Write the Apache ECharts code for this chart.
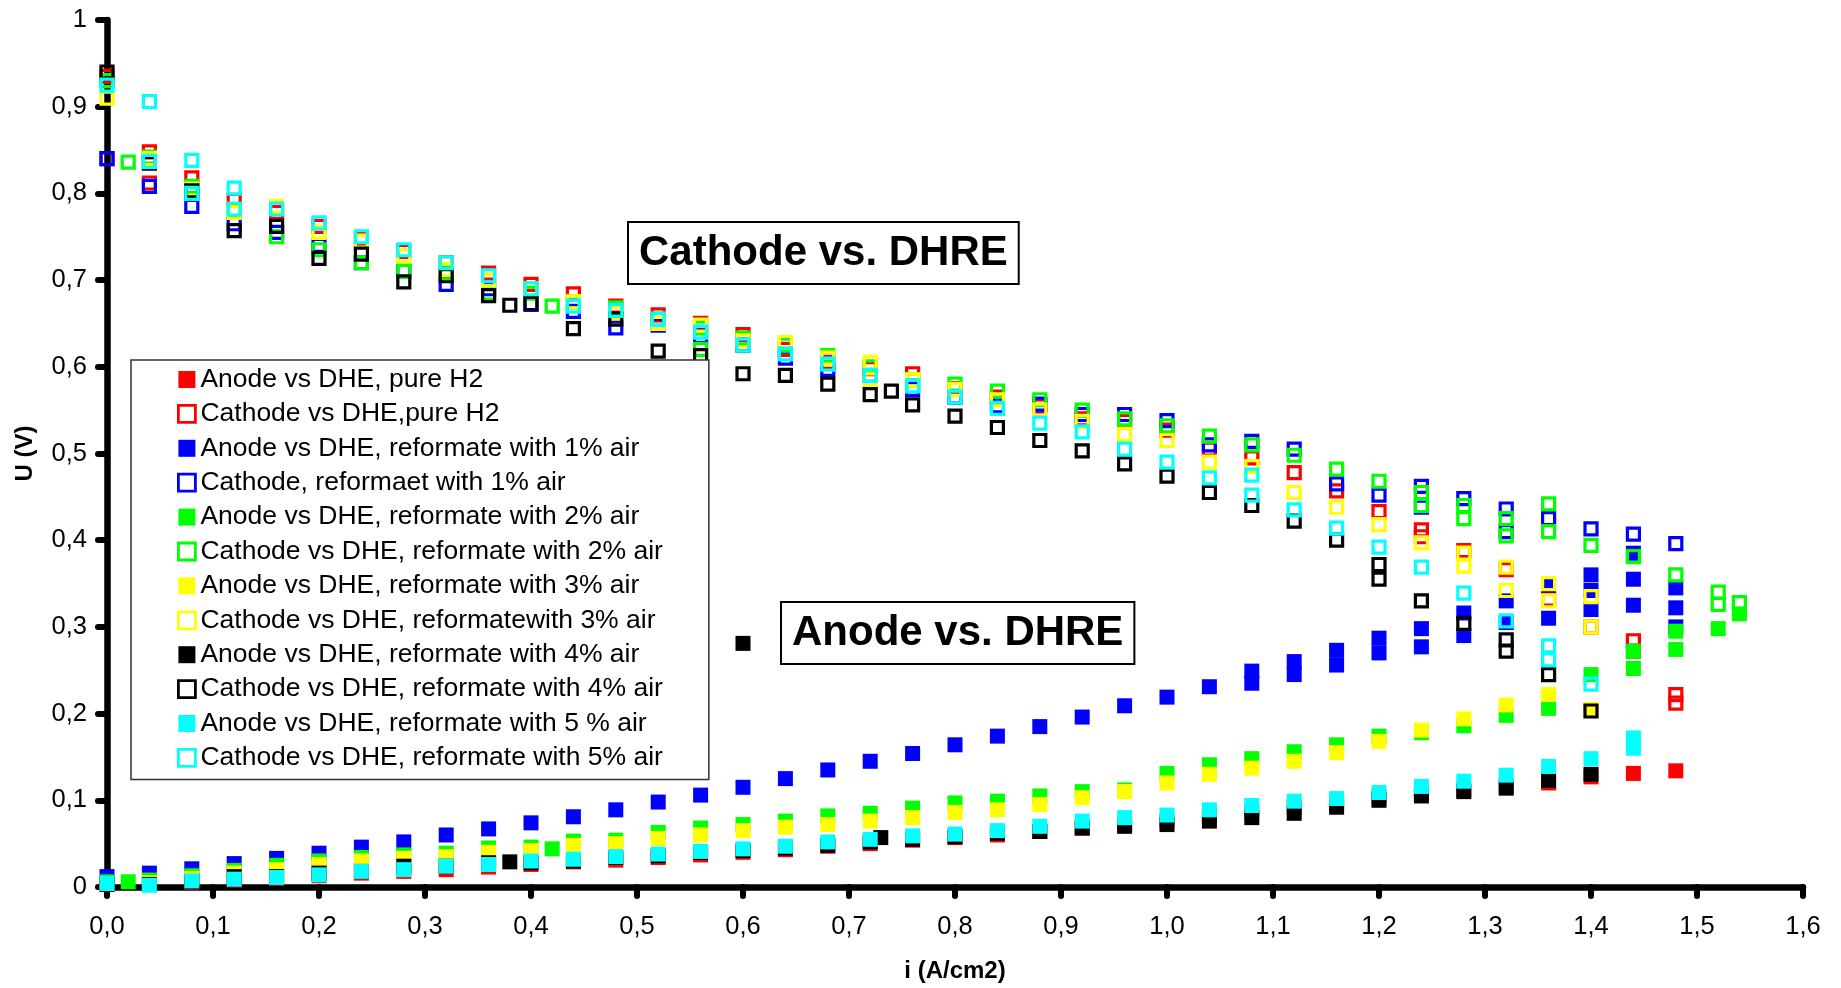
<!DOCTYPE html>
<html>
<head>
<meta charset="utf-8">
<title>Electrode potentials vs DHE</title>
<script src="https://cdn.jsdelivr.net/npm/echarts/dist/echarts.min.js"></script>
<style>
  html, body { margin: 0; padding: 0; background: #fff; }
  #chart { width: 1841px; height: 988px; }
</style>
</head>
<body>
<div id="chart"></div>
<script>
// Electrode potential U (V) against current density i (A/cm2), [i, U] pairs
const anodeH2 = [[0,0.003],[0.04,0.003],[0.08,0.005],[0.12,0.008],[0.16,0.01],[0.2,0.013],[0.24,0.016],[0.28,0.018],[0.32,0.02],[0.36,0.023],[0.4,0.026],[0.44,0.029],[0.48,0.031],[0.52,0.034],[0.56,0.037],[0.6,0.04],[0.64,0.043],[0.68,0.047],[0.72,0.05],[0.76,0.054],[0.8,0.057],[0.84,0.06],[0.88,0.064],[0.92,0.068],[0.96,0.072],[1,0.076],[1.04,0.082],[1.08,0.087],[1.12,0.092],[1.16,0.097],[1.2,0.103],[1.24,0.108],[1.28,0.112],[1.32,0.116],[1.36,0.12],[1.4,0.127],[1.44,0.131],[1.48,0.134]];
const cathodeH2 = [[0,0.935],[0,0.84],[0.04,0.848],[0.04,0.812],[0.08,0.818],[0.12,0.792],[0.16,0.778],[0.2,0.762],[0.24,0.748],[0.28,0.733],[0.32,0.72],[0.36,0.708],[0.4,0.695],[0.44,0.684],[0.48,0.67],[0.52,0.66],[0.56,0.65],[0.6,0.637],[0.64,0.62],[0.68,0.605],[0.72,0.598],[0.76,0.592],[0.8,0.575],[0.84,0.565],[0.88,0.555],[0.92,0.54],[0.96,0.537],[1,0.527],[1.04,0.505],[1.08,0.495],[1.12,0.478],[1.16,0.457],[1.2,0.433],[1.24,0.412],[1.24,0.404],[1.28,0.388],[1.32,0.366],[1.36,0.332],[1.4,0.3],[1.44,0.284],[1.44,0.272],[1.48,0.222],[1.48,0.212]];
const anode1 = [[0,0.012],[0.04,0.016],[0.08,0.021],[0.12,0.027],[0.16,0.033],[0.2,0.039],[0.24,0.046],[0.28,0.052],[0.32,0.06],[0.36,0.067],[0.4,0.074],[0.44,0.081],[0.48,0.089],[0.52,0.098],[0.56,0.106],[0.6,0.115],[0.64,0.125],[0.68,0.135],[0.72,0.145],[0.76,0.154],[0.8,0.164],[0.84,0.174],[0.88,0.185],[0.92,0.196],[0.96,0.209],[1,0.219],[1.04,0.231],[1.08,0.235],[1.08,0.249],[1.12,0.245],[1.12,0.26],[1.16,0.256],[1.16,0.273],[1.2,0.27],[1.2,0.287],[1.24,0.277],[1.24,0.298],[1.28,0.29],[1.28,0.316],[1.32,0.305],[1.32,0.33],[1.36,0.31],[1.36,0.348],[1.4,0.32],[1.4,0.342],[1.4,0.36],[1.44,0.325],[1.44,0.355],[1.44,0.385],[1.48,0.3],[1.48,0.322],[1.48,0.345]];
const cathode1 = [[0,0.84],[0.04,0.808],[0.08,0.785],[0.12,0.765],[0.16,0.755],[0.2,0.74],[0.24,0.72],[0.28,0.71],[0.32,0.695],[0.36,0.69],[0.4,0.672],[0.44,0.664],[0.48,0.645],[0.52,0.648],[0.56,0.635],[0.6,0.625],[0.64,0.61],[0.68,0.597],[0.72,0.59],[0.76,0.574],[0.8,0.565],[0.84,0.555],[0.88,0.557],[0.92,0.545],[0.96,0.545],[1,0.538],[1.04,0.51],[1.08,0.514],[1.12,0.505],[1.16,0.465],[1.2,0.452],[1.24,0.462],[1.24,0.438],[1.28,0.448],[1.32,0.436],[1.32,0.41],[1.36,0.425],[1.4,0.413],[1.44,0.407],[1.48,0.396]];
const anode2 = [[0,0.006],[0.02,0.006],[0.04,0.008],[0.08,0.013],[0.12,0.019],[0.16,0.025],[0.2,0.03],[0.24,0.034],[0.28,0.037],[0.32,0.039],[0.36,0.045],[0.4,0.046],[0.42,0.044],[0.44,0.053],[0.48,0.054],[0.52,0.063],[0.56,0.068],[0.6,0.072],[0.64,0.076],[0.68,0.082],[0.72,0.085],[0.76,0.091],[0.8,0.097],[0.84,0.099],[0.88,0.105],[0.92,0.11],[0.96,0.112],[1,0.131],[1.04,0.141],[1.08,0.148],[1.12,0.156],[1.16,0.164],[1.2,0.174],[1.24,0.178],[1.28,0.186],[1.32,0.198],[1.36,0.206],[1.4,0.245],[1.44,0.252],[1.44,0.272],[1.48,0.274],[1.48,0.295],[1.52,0.298],[1.54,0.315]];
const cathode2 = [[0,0.93],[0.02,0.836],[0.04,0.842],[0.08,0.808],[0.12,0.78],[0.16,0.75],[0.2,0.735],[0.24,0.72],[0.28,0.71],[0.32,0.708],[0.36,0.685],[0.4,0.685],[0.42,0.67],[0.44,0.675],[0.48,0.668],[0.52,0.655],[0.56,0.645],[0.56,0.62],[0.6,0.633],[0.64,0.625],[0.68,0.613],[0.72,0.6],[0.76,0.585],[0.8,0.58],[0.84,0.572],[0.88,0.562],[0.92,0.55],[0.96,0.54],[1,0.532],[1.04,0.52],[1.08,0.51],[1.12,0.498],[1.16,0.482],[1.2,0.468],[1.24,0.455],[1.24,0.44],[1.28,0.44],[1.28,0.425],[1.32,0.425],[1.32,0.405],[1.36,0.442],[1.36,0.41],[1.4,0.394],[1.44,0.381],[1.48,0.36],[1.52,0.34],[1.52,0.326],[1.54,0.328]];
const anode3 = [[0,0.004],[0.04,0.005],[0.08,0.01],[0.12,0.016],[0.16,0.02],[0.2,0.026],[0.24,0.03],[0.28,0.033],[0.32,0.035],[0.36,0.04],[0.4,0.042],[0.44,0.048],[0.48,0.05],[0.52,0.056],[0.56,0.06],[0.6,0.065],[0.64,0.069],[0.68,0.072],[0.72,0.076],[0.76,0.08],[0.8,0.086],[0.84,0.089],[0.88,0.095],[0.92,0.103],[0.96,0.11],[1,0.12],[1.04,0.13],[1.08,0.137],[1.12,0.145],[1.16,0.155],[1.2,0.168],[1.24,0.181],[1.28,0.194],[1.32,0.21],[1.36,0.222],[1.4,0.205]];
const cathode3 = [[0,0.91],[0.04,0.84],[0.08,0.805],[0.12,0.778],[0.16,0.785],[0.2,0.755],[0.24,0.745],[0.28,0.728],[0.32,0.712],[0.36,0.7],[0.4,0.69],[0.44,0.675],[0.48,0.662],[0.52,0.65],[0.56,0.648],[0.6,0.63],[0.64,0.628],[0.68,0.61],[0.72,0.605],[0.72,0.585],[0.76,0.585],[0.8,0.574],[0.84,0.562],[0.88,0.55],[0.92,0.537],[0.96,0.522],[1,0.515],[1.04,0.49],[1.08,0.485],[1.12,0.455],[1.16,0.438],[1.2,0.418],[1.24,0.397],[1.28,0.385],[1.28,0.37],[1.32,0.369],[1.32,0.342],[1.36,0.35],[1.36,0.33],[1.4,0.335],[1.4,0.3]];
const anode4 = [[0,0.003],[0.04,0.003],[0.08,0.006],[0.12,0.012],[0.16,0.012],[0.2,0.016],[0.24,0.018],[0.28,0.024],[0.32,0.024],[0.36,0.028],[0.38,0.029],[0.4,0.028],[0.44,0.03],[0.48,0.034],[0.52,0.036],[0.56,0.04],[0.6,0.042],[0.6,0.281],[0.64,0.045],[0.68,0.048],[0.72,0.052],[0.73,0.057],[0.76,0.055],[0.8,0.058],[0.84,0.062],[0.88,0.064],[0.92,0.068],[0.96,0.07],[1,0.072],[1.04,0.076],[1.08,0.08],[1.12,0.085],[1.16,0.092],[1.2,0.1],[1.24,0.105],[1.28,0.11],[1.32,0.114],[1.36,0.123],[1.4,0.13]];
const cathode4 = [[0,0.94],[0.04,0.835],[0.08,0.803],[0.12,0.757],[0.16,0.762],[0.2,0.725],[0.24,0.73],[0.28,0.698],[0.32,0.705],[0.36,0.682],[0.38,0.671],[0.4,0.673],[0.44,0.644],[0.48,0.655],[0.52,0.618],[0.56,0.613],[0.6,0.592],[0.64,0.59],[0.68,0.58],[0.72,0.568],[0.74,0.572],[0.76,0.556],[0.8,0.543],[0.84,0.53],[0.88,0.515],[0.92,0.503],[0.96,0.488],[1,0.474],[1.04,0.455],[1.08,0.44],[1.12,0.422],[1.16,0.4],[1.2,0.372],[1.2,0.355],[1.24,0.33],[1.28,0.304],[1.32,0.285],[1.32,0.272],[1.36,0.245],[1.4,0.203]];
const anode5 = [[0,0.004],[0.04,0.002],[0.08,0.007],[0.12,0.009],[0.16,0.011],[0.2,0.014],[0.24,0.018],[0.28,0.02],[0.32,0.024],[0.36,0.026],[0.4,0.03],[0.44,0.032],[0.48,0.035],[0.52,0.038],[0.56,0.041],[0.6,0.044],[0.64,0.047],[0.68,0.052],[0.72,0.055],[0.76,0.059],[0.8,0.061],[0.84,0.065],[0.88,0.07],[0.92,0.076],[0.96,0.08],[1,0.083],[1.04,0.089],[1.08,0.094],[1.12,0.099],[1.16,0.102],[1.2,0.109],[1.24,0.116],[1.28,0.122],[1.32,0.129],[1.36,0.139],[1.4,0.148],[1.44,0.16],[1.44,0.172]];
const cathode5 = [[0,0.925],[0.04,0.906],[0.04,0.837],[0.08,0.838],[0.08,0.8],[0.12,0.806],[0.12,0.782],[0.16,0.782],[0.2,0.766],[0.24,0.75],[0.28,0.735],[0.32,0.72],[0.36,0.705],[0.4,0.69],[0.44,0.67],[0.48,0.665],[0.52,0.655],[0.56,0.64],[0.6,0.625],[0.64,0.615],[0.68,0.603],[0.72,0.59],[0.76,0.578],[0.8,0.565],[0.84,0.552],[0.88,0.535],[0.92,0.525],[0.96,0.505],[1,0.49],[1.04,0.472],[1.08,0.475],[1.08,0.452],[1.12,0.435],[1.16,0.414],[1.2,0.392],[1.24,0.369],[1.28,0.339],[1.32,0.307],[1.36,0.278],[1.36,0.262],[1.4,0.234]];

// Legend names, in drawing order
const seriesNames = [
  'Anode vs DHE, pure H2',
  'Cathode vs DHE,pure H2',
  'Anode vs DHE, reformate with 1% air',
  'Cathode, reformaet with 1% air',
  'Anode vs DHE, reformate with 2% air',
  'Cathode vs DHE, reformate with 2% air',
  'Anode vs DHE, reformate with 3% air',
  'Cathode vs DHE, reformatewith 3% air',
  'Anode vs DHE, reformate with 4% air',
  'Cathode vs DHE, reformate with 4% air',
  'Anode vs DHE, reformate with 5 % air',
  'Cathode vs DHE, reformate with 5% air'
];
const seriesData = [anodeH2, cathodeH2, anode1, cathode1, anode2, cathode2, anode3, cathode3, anode4, cathode4, anode5, cathode5];
const seriesColors = ['#ff0000', '#ff0000', '#0000ff', '#0000ff', '#00ff00', '#00ff00', '#ffff00', '#ffff00', '#000000', '#000000', '#00ffff', '#00ffff'];

const yTickLabels = ['0', '0,1', '0,2', '0,3', '0,4', '0,5', '0,6', '0,7', '0,8', '0,9', '1'];
const xTickLabels = ['0,0', '0,1', '0,2', '0,3', '0,4', '0,5', '0,6', '0,7', '0,8', '0,9', '1,0', '1,1', '1,2', '1,3', '1,4', '1,5', '1,6'];

const FONT = '"Liberation Sans", Arial, sans-serif';

// odd entries are the cathode series, drawn as open squares
const isOpen = i => i % 2 === 1;

const series = seriesData.map((data, i) => ({
  name: seriesNames[i],
  type: 'scatter',
  data: data,
  symbol: 'rect',
  symbolSize: isOpen(i) ? 12 : 15,
  itemStyle: isOpen(i)
    ? { color: 'rgba(0,0,0,0)', borderColor: seriesColors[i], borderWidth: 3.2, opacity: 1 }
    : { color: seriesColors[i], borderWidth: 0, opacity: 1 },
  emphasis: { disabled: true },
  z: 2
}));

const legendData = seriesNames.map((name, i) => ({
  name: name,
  icon: 'rect',
  itemStyle: isOpen(i)
    ? { color: '#ffffff', borderColor: seriesColors[i], borderWidth: 2.8, opacity: 1 }
    : { color: seriesColors[i], borderWidth: 0, opacity: 1 }
}));

const chart = echarts.init(document.getElementById('chart'), null, { renderer: 'canvas' });

chart.setOption({
  animation: false,
  backgroundColor: '#ffffff',
  grid: { left: 107, right: 38, top: 20, bottom: 99, containLabel: false },
  xAxis: {
    type: 'value',
    min: 0,
    max: 1.6,
    interval: 0.1,
    splitLine: { show: false },
    axisLine: { show: true, onZero: false, lineStyle: { color: '#000', width: 6.5, cap: 'round' } },
    axisTick: { show: true, length: 9, lineStyle: { color: '#000', width: 6, cap: 'round' } },
    axisLabel: {
      color: '#000', fontSize: 25.5, fontFamily: FONT, margin: 27,
      formatter: v => xTickLabels[Math.round(v * 10)]
    },
    name: 'i (A/cm2)',
    nameLocation: 'middle',
    nameGap: 72,
    nameTextStyle: { color: '#000', fontSize: 24, fontWeight: 'bold', fontFamily: FONT }
  },
  yAxis: {
    type: 'value',
    min: 0,
    max: 1,
    interval: 0.1,
    splitLine: { show: false },
    axisLine: { show: true, onZero: false, lineStyle: { color: '#000', width: 6.5, cap: 'round' } },
    axisTick: { show: true, length: 9, lineStyle: { color: '#000', width: 6, cap: 'round' } },
    axisLabel: {
      color: '#000', fontSize: 25.5, fontFamily: FONT, margin: 20,
      formatter: v => yTickLabels[Math.round(v * 10)]
    },
    name: 'U (V)',
    nameLocation: 'middle',
    nameGap: 70,
    nameTextStyle: { color: '#000', fontSize: 24, fontWeight: 'bold', fontFamily: FONT }
  },
  legend: {
    orient: 'vertical',
    left: 131,
    top: 360,
    padding: [6, 46, 8, 46],
    itemWidth: 17,
    itemHeight: 17,
    itemGap: 7.4,
    selectedMode: false,
    backgroundColor: '#ffffff',
    borderColor: '#333',
    borderWidth: 1.5,
    textStyle: { color: '#000', fontSize: 26.5, fontFamily: FONT, lineHeight: 26 },
    data: legendData,
    z: 10
  },
  graphic: [
    {
      type: 'text',
      x: 629,
      y: 223,
      z: 20,
      style: {
        text: 'Cathode vs. DHRE',
        font: 'bold 42px "Liberation Sans", Arial, sans-serif',
        fill: '#000',
        lineHeight: 42,
        backgroundColor: '#fff',
        borderColor: '#000',
        borderWidth: 2,
        padding: [9, 10, 9, 10]
      }
    },
    {
      type: 'text',
      x: 782,
      y: 603,
      z: 20,
      style: {
        text: 'Anode vs. DHRE',
        font: 'bold 42px "Liberation Sans", Arial, sans-serif',
        fill: '#000',
        lineHeight: 42,
        backgroundColor: '#fff',
        borderColor: '#000',
        borderWidth: 2,
        padding: [9, 10, 9, 10]
      }
    }
  ],
  series: series
});
</script>
</body>
</html>
